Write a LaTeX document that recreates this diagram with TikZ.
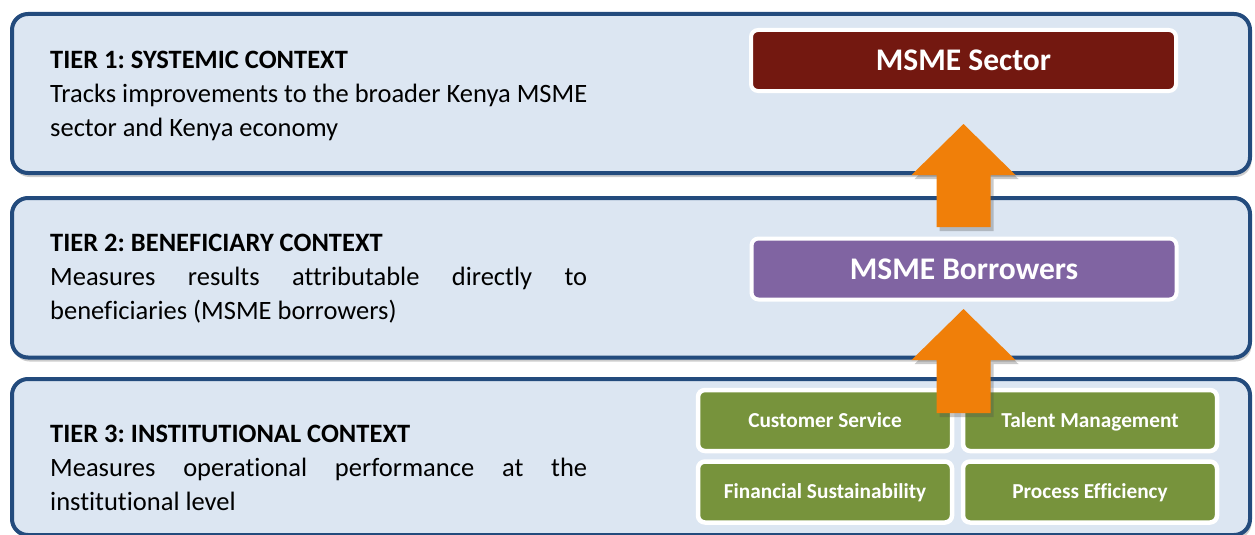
\documentclass[tikz,border=0pt]{standalone}
\usepackage{fontspec}
\setmainfont{Carlito}[Ligatures={NoCommon,NoContextual}]
\usetikzlibrary{shadows,calc}
\definecolor{tierborder}{HTML}{234B7D}
\definecolor{tierfill}{HTML}{DCE6F2}
\definecolor{sectorred}{HTML}{731810}
\definecolor{borrowpurple}{HTML}{8064A2}
\definecolor{instgreen}{HTML}{77933C}
\definecolor{arroworange}{HTML}{F07F09}
\hbadness=10000
\frenchspacing
\newcommand\myblockarrow[2]{(#2) -- ($(#2)+(52,51)$) -- ($(#2)+(27,51)$) -- ($(#1)+(27,0)$) -- ($(#1)+(-27,0)$) -- ($(#2)+(-27,51)$) -- ($(#2)+(-52,51)$) -- cycle}
\begin{document}
\begin{tikzpicture}[x=1pt,y=-1pt,
  tierbox/.style={draw=tierborder, line width=4pt, fill=tierfill, rounded corners=16pt,
    drop shadow={shadow xshift=1.5pt, shadow yshift=-4pt, opacity=0.28, fill=black!70}},
  bigbox/.style={draw=white, line width=4pt, rounded corners=7pt, minimum width=425pt,
    minimum height=61pt, inner sep=0pt, text=white, font=\fontsize{31.5}{36}\selectfont\bfseries,
    text height=20pt, text depth=0pt},
  greenbox/.style={draw=white, line width=4.5pt, rounded corners=7pt, fill=instgreen,
    minimum width=254pt, minimum height=61pt, inner sep=0pt, text=white,
    font=\fontsize{21.3}{25}\selectfont\bfseries, text height=13.5pt, text depth=0pt},
  tiertext/.style={anchor=base west, inner sep=0pt, font=\fontsize{26.5}{34}\selectfont\frenchspacing},
  blockarrow/.style={fill=arroworange, draw=none,
    drop shadow={shadow xshift=3pt, shadow yshift=-4pt, opacity=0.3, fill=black!70}}
]
\useasboundingbox (0,0) rectangle (1255,535);
% tier boxes
\path[tierbox] (12,14) rectangle (1250,173);
\path[tierbox] (12,198) rectangle (1250,357.5);
\path[tierbox] (12,379) rectangle (1250,535);
% tier texts
\node[tiertext] (t1) at (50,69) {\parbox[t]{537pt}{\textbf{TIER 1: SYSTEMIC CONTEXT}\par
  Tracks improvements to the broader Kenya MSME\linebreak sector and Kenya economy}};
\node[tiertext] (t2) at (50,251.5) {\parbox[t]{537pt}{\textbf{TIER 2: BENEFICIARY CONTEXT}\par
  Measures results attributable directly to\linebreak beneficiaries (MSME borrowers)}};
\node[tiertext] (t3) at (50,442) {\parbox[t]{537pt}{\textbf{TIER 3: INSTITUTIONAL CONTEXT}\par
  Measures operational performance at the\linebreak institutional level}};
% right side boxes
\node[bigbox, fill=sectorred] (sector) at (963.5,60.5) {MSME Sector};
\node[bigbox, fill=borrowpurple] (borrow) at (964,269) {MSME Borrowers};
\node[greenbox] (cs) at (825,420.5) {Customer Service};
\node[greenbox] (tm) at (1090,420.5) {Talent Management};
\node[greenbox] (fs) at (825,492) {Financial Sustainability};
\node[greenbox] (pe) at (1090,492) {Process Efficiency};
% arrows
\coordinate (a1tail) at (963.5,227);
\coordinate (a1tip) at (963.5,124);
\coordinate (a2tail) at (963.5,413);
\coordinate (a2tip) at (963.5,309);
\path[blockarrow] \myblockarrow{a1tail}{a1tip};
\path[blockarrow] \myblockarrow{a2tail}{a2tip};
\end{tikzpicture}
\end{document}
